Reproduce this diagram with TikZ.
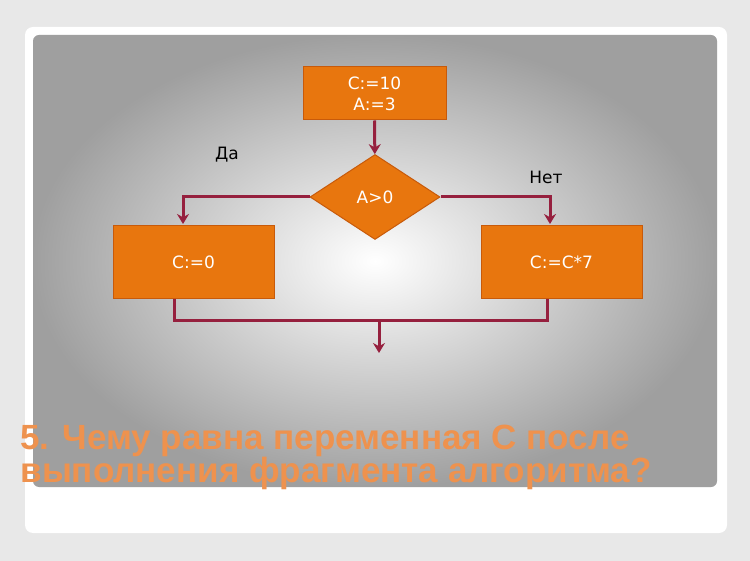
\documentclass[tikz,border=0pt]{standalone}
\usepackage{fontspec}
\setmainfont{DejaVu Sans}
\newfontfamily\titlefont{Liberation Sans}
\usetikzlibrary{shapes.geometric,arrows.meta}
\definecolor{boxorange}{RGB}{232,118,14}
\definecolor{boxedge}{RGB}{200,90,10}
\definecolor{wire}{RGB}{150,32,62}
\definecolor{titleorange}{RGB}{238,146,78}
\definecolor{pagegray}{RGB}{232,232,232}
\tikzset{
  block/.style={draw=boxedge, line width=1pt, fill=boxorange, text=white, font=\fontsize{17}{21}\selectfont, align=center},
  cond/.style={diamond, draw=boxedge, line width=1pt, fill=boxorange, text=white, font=\fontsize{17}{21}\selectfont, aspect=1.53, inner sep=0pt},
  wireline/.style={draw=wire, line width=3pt},
  flow/.style={wireline, -{Stealth[length=10pt,width=12pt]}}
}
\begin{document}
\begin{tikzpicture}[x=1pt,y=-1pt]
  \useasboundingbox (0,0) rectangle (750,561);
  % page and card
  \fill[pagegray] (0,0) rectangle (750,561);
  \fill[white, rounded corners=8pt] (25,27) rectangle (727,533);
  \shade[inner color=white, outer color=gray!75, rounded corners=6pt] (33,35) rectangle (717,487);

  % blocks
  \node[block, minimum width=143pt, minimum height=53pt] (init) at (374.5,93.5) {C:=10\\A:=3};
  \node[cond, minimum width=130pt, minimum height=85pt] (test) at (375,197) {A>0};
  \node[block, minimum width=161pt, minimum height=73pt] (yes) at (193.5,262.5) {C:=0};
  \node[block, minimum width=161pt, minimum height=73pt] (no) at (561.5,262.5) {C:=C*7};
  \coordinate (join) at (379,321);
  \coordinate (out) at (379,353);

  % connectors
  \draw[flow] (init) -- (test);
  \draw[flow] (test.west) -| (183,224);
  \draw[flow] (test.east) -| (550,224);
  \draw[wireline] (174,299) |- (join) -| (547,299);
  \draw[flow] (join) -- (out);

  % branch labels
  \node (da) at (227,155) {\fontsize{17}{21}\selectfont Да};
  \node (net) at (546,177) {\fontsize{17}{21}\selectfont Нет};

  % question
  \node[anchor=west, text=titleorange, font=\titlefont\bfseries\fontsize{35}{33}\selectfont, align=left] (question) at (17,457)
    {5. Чему равна переменная С после\\выполнения фрагмента алгоритма?};
\end{tikzpicture}
\end{document}
